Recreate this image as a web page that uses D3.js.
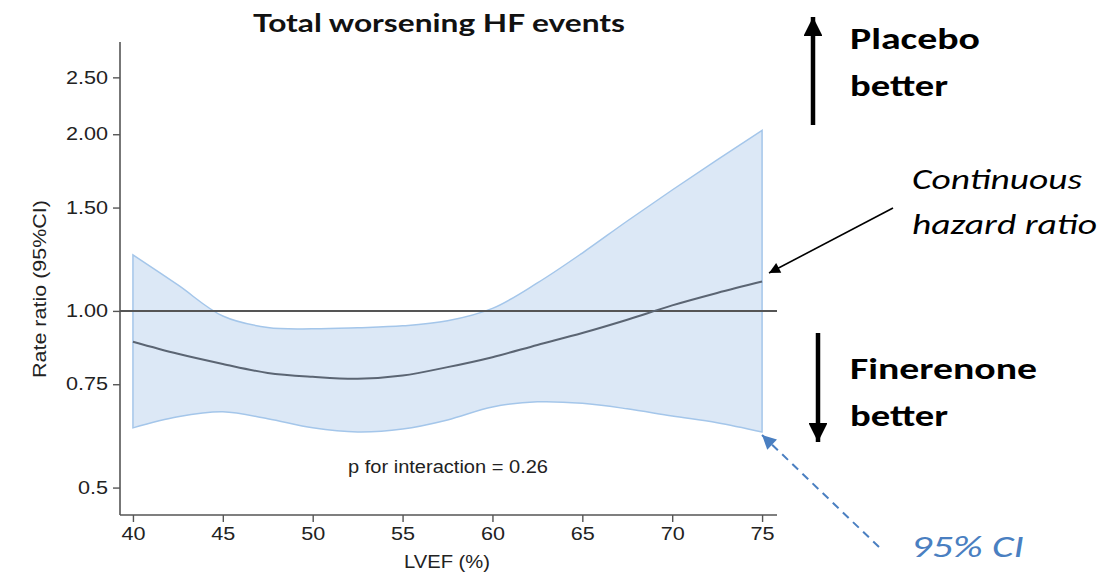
<!DOCTYPE html>
<html>
<head>
<meta charset="utf-8">
<script src="https://cdn.jsdelivr.net/npm/d3@7"></script>
<style>
  html, body { margin: 0; padding: 0; background: #fff; }
  svg { display: block; }
</style>
</head>
<body>
<svg id="chart" width="1118" height="577"></svg>
<script>
// LVEF grid and spline estimates of the rate ratio with 95% CI
const lvef   = [40, 42.5, 45, 47.5, 50, 52.5, 55, 57.5, 60, 62.5, 65, 67.5, 70, 72.5, 75];
const ratio  = [0.886, 0.845, 0.812, 0.784, 0.772, 0.766, 0.776, 0.802, 0.834, 0.875, 0.917, 0.966, 1.022, 1.073, 1.122];
const upper  = [1.246, 1.107, 0.980, 0.937, 0.932, 0.936, 0.943, 0.962, 1.010, 1.116, 1.255, 1.423, 1.607, 1.808, 2.030];
const lower  = [0.632, 0.660, 0.673, 0.655, 0.632, 0.622, 0.629, 0.652, 0.686, 0.700, 0.696, 0.681, 0.662, 0.645, 0.622];
const yTicks = [0.5, 0.75, 1.0, 1.5, 2.0, 2.5];
const yTickLabels = ["0.5", "0.75", "1.00", "1.50", "2.00", "2.50"];
const xTicks = [40, 45, 50, 55, 60, 65, 70, 75];

const svg = d3.select("#chart");
const axisColor = "#555";
const tickFont = "Liberation Sans, Arial, sans-serif";

// stretch a text element horizontally to a given advance width
function fit(sel, w) {
  sel.attr("textLength", w).attr("lengthAdjust", "spacingAndGlyphs");
  return sel;
}

const x = d3.scaleLinear().domain([39.28, 75.83]).range([120, 777]);
const y = d3.scaleLog().domain([0.449, 2.872]).range([515, 42]);

const rows = lvef.map((v, i) => ({ x: v, r: ratio[i], hi: upper[i], lo: lower[i] }));
const curve = d3.curveCatmullRom.alpha(0.5);

// confidence band
const band = d3.area()
  .x(d => x(d.x)).y0(d => y(d.lo)).y1(d => y(d.hi))
  .curve(curve);
svg.append("path").datum(rows)
  .attr("d", band)
  .attr("fill", "#dce8f6")
  .attr("stroke", "#a4c6ea")
  .attr("stroke-width", 1.5);

// reference line at ratio 1
svg.append("line")
  .attr("x1", 120).attr("x2", 777)
  .attr("y1", y(1)).attr("y2", y(1))
  .attr("stroke", "#555").attr("stroke-width", 2);

// estimated rate ratio
const line = d3.line().x(d => x(d.x)).y(d => y(d.r)).curve(curve);
svg.append("path").datum(rows)
  .attr("d", line)
  .attr("fill", "none")
  .attr("stroke", "#5b6573")
  .attr("stroke-width", 2);

// axes
const yAxis = d3.axisLeft(y).tickValues(yTicks)
  .tickFormat((d, i) => yTickLabels[i]).tickSize(7).tickPadding(5);
const gy = svg.append("g").attr("transform", "translate(120,0)").call(yAxis);

const xAxis = d3.axisBottom(x).tickValues(xTicks).tickSize(7).tickPadding(5);
const gx = svg.append("g").attr("transform", "translate(0,515)").call(xAxis);

[gy, gx].forEach(g => {
  g.select(".domain").attr("stroke", axisColor).attr("stroke-width", 1.6);
  g.selectAll(".tick line").attr("stroke", axisColor).attr("stroke-width", 1.4);
  g.selectAll(".tick text")
    .attr("fill", "#222").style("font-family", tickFont).style("font-size", "18px");
});
// widen tick labels to the figure's proportions
gy.selectAll(".tick text").each(function () {
  const t = d3.select(this);
  fit(t, this.getComputedTextLength() * 1.2);
});
gx.selectAll(".tick text").each(function () {
  const t = d3.select(this);
  fit(t, this.getComputedTextLength() * 1.2);
});
// full-length axis lines (no outer ticks)
gy.select(".domain").attr("d", "M0,42V515");
gx.select(".domain").attr("d", "M120,0H777");

// axis titles
fit(svg.append("text")
  .attr("transform", `translate(46,289) rotate(-90)`)
  .attr("text-anchor", "middle")
  .style("font-family", tickFont).style("font-size", "19px").attr("fill", "#222")
  .text("Rate ratio (95%CI)"), 178);
fit(svg.append("text")
  .attr("x", 447).attr("y", 568)
  .attr("text-anchor", "middle")
  .style("font-family", tickFont).style("font-size", "19px").attr("fill", "#222")
  .text("LVEF (%)"), 86);

// title
fit(svg.append("text")
  .attr("x", 439).attr("y", 32)
  .attr("text-anchor", "middle")
  .style("font-family", "Lato, 'Open Sans', sans-serif").style("font-weight", "bold")
  .style("font-size", "25px").attr("fill", "#111")
  .text("Total worsening HF events"), 372);

// interaction p-value
fit(svg.append("text")
  .attr("x", 448).attr("y", 473)
  .attr("text-anchor", "middle")
  .style("font-family", tickFont).style("font-size", "17.5px").attr("fill", "#222")
  .text("p for interaction = 0.26"), 200);

// arrow markers
const defs = svg.append("defs");
defs.append("marker").attr("id", "headBlack")
  .attr("viewBox", "0 0 10 10").attr("refX", 10).attr("refY", 5)
  .attr("markerWidth", 4.2).attr("markerHeight", 4.2).attr("markerUnits", "strokeWidth")
  .attr("orient", "auto")
  .append("path").attr("d", "M0,0L10,5L0,10Z").attr("fill", "#000");
defs.append("marker").attr("id", "headThin")
  .attr("viewBox", "0 0 10 10").attr("refX", 10).attr("refY", 5)
  .attr("markerWidth", 12).attr("markerHeight", 11).attr("markerUnits", "userSpaceOnUse")
  .attr("orient", "auto")
  .append("path").attr("d", "M0,0L10,5L0,10Z").attr("fill", "#000");
defs.append("marker").attr("id", "headBlue")
  .attr("viewBox", "0 0 10 10").attr("refX", 10).attr("refY", 5)
  .attr("markerWidth", 15).attr("markerHeight", 14).attr("markerUnits", "userSpaceOnUse")
  .attr("orient", "auto")
  .append("path").attr("d", "M0,0L10,5L0,10Z").attr("fill", "#4a7fc1");

// direction arrows
svg.append("line").attr("x1", 813).attr("y1", 125).attr("x2", 813).attr("y2", 17)
  .attr("stroke", "#000").attr("stroke-width", 4.5).attr("marker-end", "url(#headBlack)");
svg.append("line").attr("x1", 818).attr("y1", 333).attr("x2", 818).attr("y2", 442)
  .attr("stroke", "#000").attr("stroke-width", 4.5).attr("marker-end", "url(#headBlack)");

const noteFont = "Carlito, Lato, 'Open Sans', sans-serif";
function noteLines(lines, x0, y0, dy, opts) {
  const t = svg.append("text")
    .style("font-family", noteFont).style("font-size", opts.size)
    .style("font-weight", opts.weight || "normal").style("font-style", opts.style || "normal")
    .attr("fill", opts.fill || "#000");
  lines.forEach((s, i) => fit(t.append("tspan").attr("x", x0).attr("y", y0 + i * dy).text(s), opts.widths[i]));
}
noteLines(["Placebo", "better"], 850, 49, 47, { size: "31px", weight: "bold", widths: [130, 98] });
noteLines(["Finerenone", "better"], 850, 379, 47, { size: "31px", weight: "bold", widths: [187, 98] });
noteLines(["Continuous", "hazard ratio"], 912, 189, 45, { size: "29px", style: "italic", widths: [170, 185] });
noteLines(["95% CI"], 911, 557, 0, { size: "30px", style: "italic", fill: "#4a7fc1", widths: [113] });

// pointer to the estimate line
svg.append("line").attr("x1", 893).attr("y1", 208).attr("x2", 769).attr("y2", 273)
  .attr("stroke", "#000").attr("stroke-width", 1.6).attr("marker-end", "url(#headThin)");
// dashed pointer to the CI band
svg.append("line").attr("x1", 879).attr("y1", 547).attr("x2", 762).attr("y2", 435)
  .attr("stroke", "#4a7fc1").attr("stroke-width", 2).attr("stroke-dasharray", "8,6")
  .attr("marker-end", "url(#headBlue)");
</script>
</body>
</html>
